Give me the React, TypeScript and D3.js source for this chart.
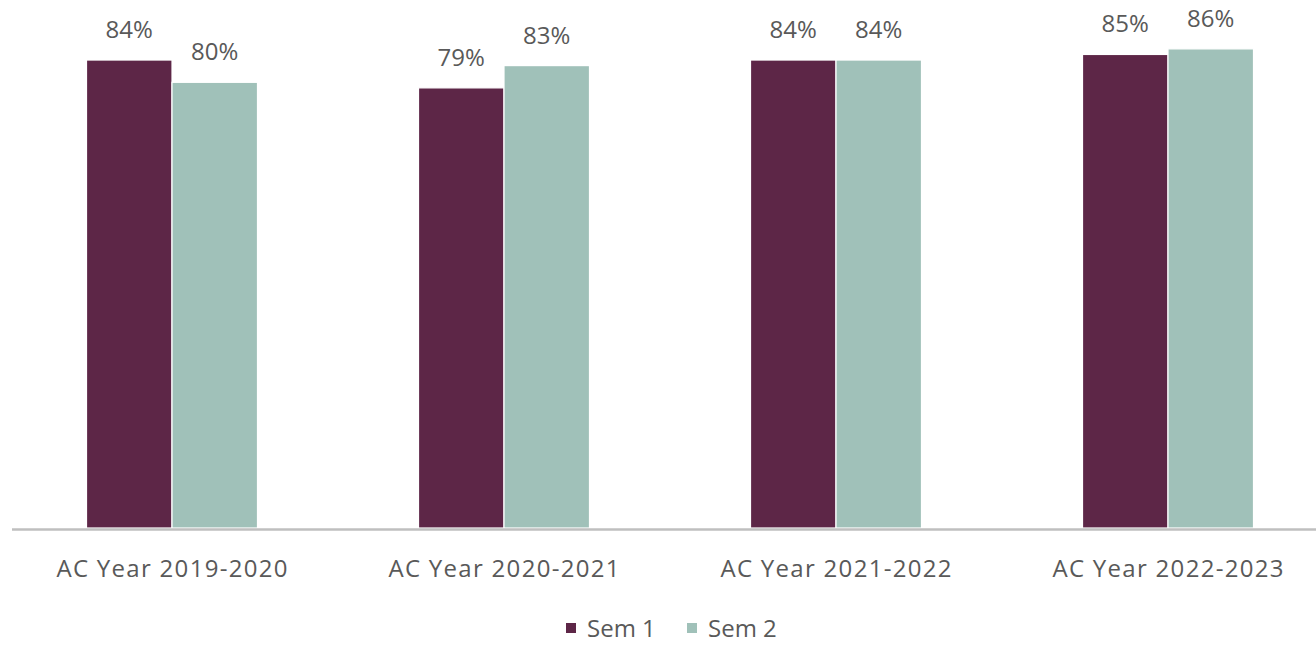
import React from "react";
import * as d3 from "d3";

const categories = ["AC Year 2019-2020", "AC Year 2020-2021", "AC Year 2021-2022", "AC Year 2022-2023"];
const seriesNames = ["Sem 1", "Sem 2"];
const sem1 = [84, 79, 84, 85];
const sem2 = [80, 83, 84, 86];
const colors = ["#5D2647", "#A0C1B9"];

const W = 1316;
const H = 646;
const FONT = "'Open Sans', sans-serif";
const TEXT = "#595959";

export default function App() {
  const baseY = 528;
  const x0 = d3.scaleBand<string>().domain(categories).range([6, 1334]).paddingInner(0.485).paddingOuter(0.2425);
  const x1 = d3.scaleBand<string>().domain(seriesNames).range([0, x0.bandwidth()]).padding(0);
  const y = d3.scaleLinear().domain([0, 100]).range([baseY, baseY - 557.1]);
  const values = [sem1, sem2];

  return (
    <svg width={W} height={H} style={{ position: "absolute", left: 0, top: 0, background: "#fff" }}>
      {categories.map((c, ci) => (
        <g key={c} transform={`translate(${x0(c)},0)`}>
          {seriesNames.map((s, si) => {
            const v = values[si][ci];
            const bx = x1(s)!;
            const bw = x1.bandwidth();
            return (
              <g key={s}>
                <rect x={bx} y={y(v)} width={bw} height={baseY - y(v)} fill={colors[si]} stroke="#fff" strokeWidth={1.2} />
                <text x={bx + bw / 2} y={y(v) - 22} textAnchor="middle" fontFamily={FONT} fontSize={24} fill={TEXT}>
                  {d3.format(".0f")(v)}%
                </text>
              </g>
            );
          })}
          <text x={x0.bandwidth() / 2 + 0.6} y={577} textAnchor="middle" fontFamily={FONT} fontSize={24} letterSpacing={1.3} fill={TEXT}>
            {c}
          </text>
        </g>
      ))}
      <line x1={12} x2={W} y1={529.5} y2={529.5} stroke="#BFBFBF" strokeWidth={2.5} />
      {seriesNames.map((s, si) => {
        const lx = [566, 687][si];
        return (
          <g key={s}>
            <rect x={lx} y={623} width={10} height={10} fill={colors[si]} />
            <text x={lx + 21} y={637} fontFamily={FONT} fontSize={24} fill={TEXT}>
              {s}
            </text>
          </g>
        );
      })}
    </svg>
  );
}
